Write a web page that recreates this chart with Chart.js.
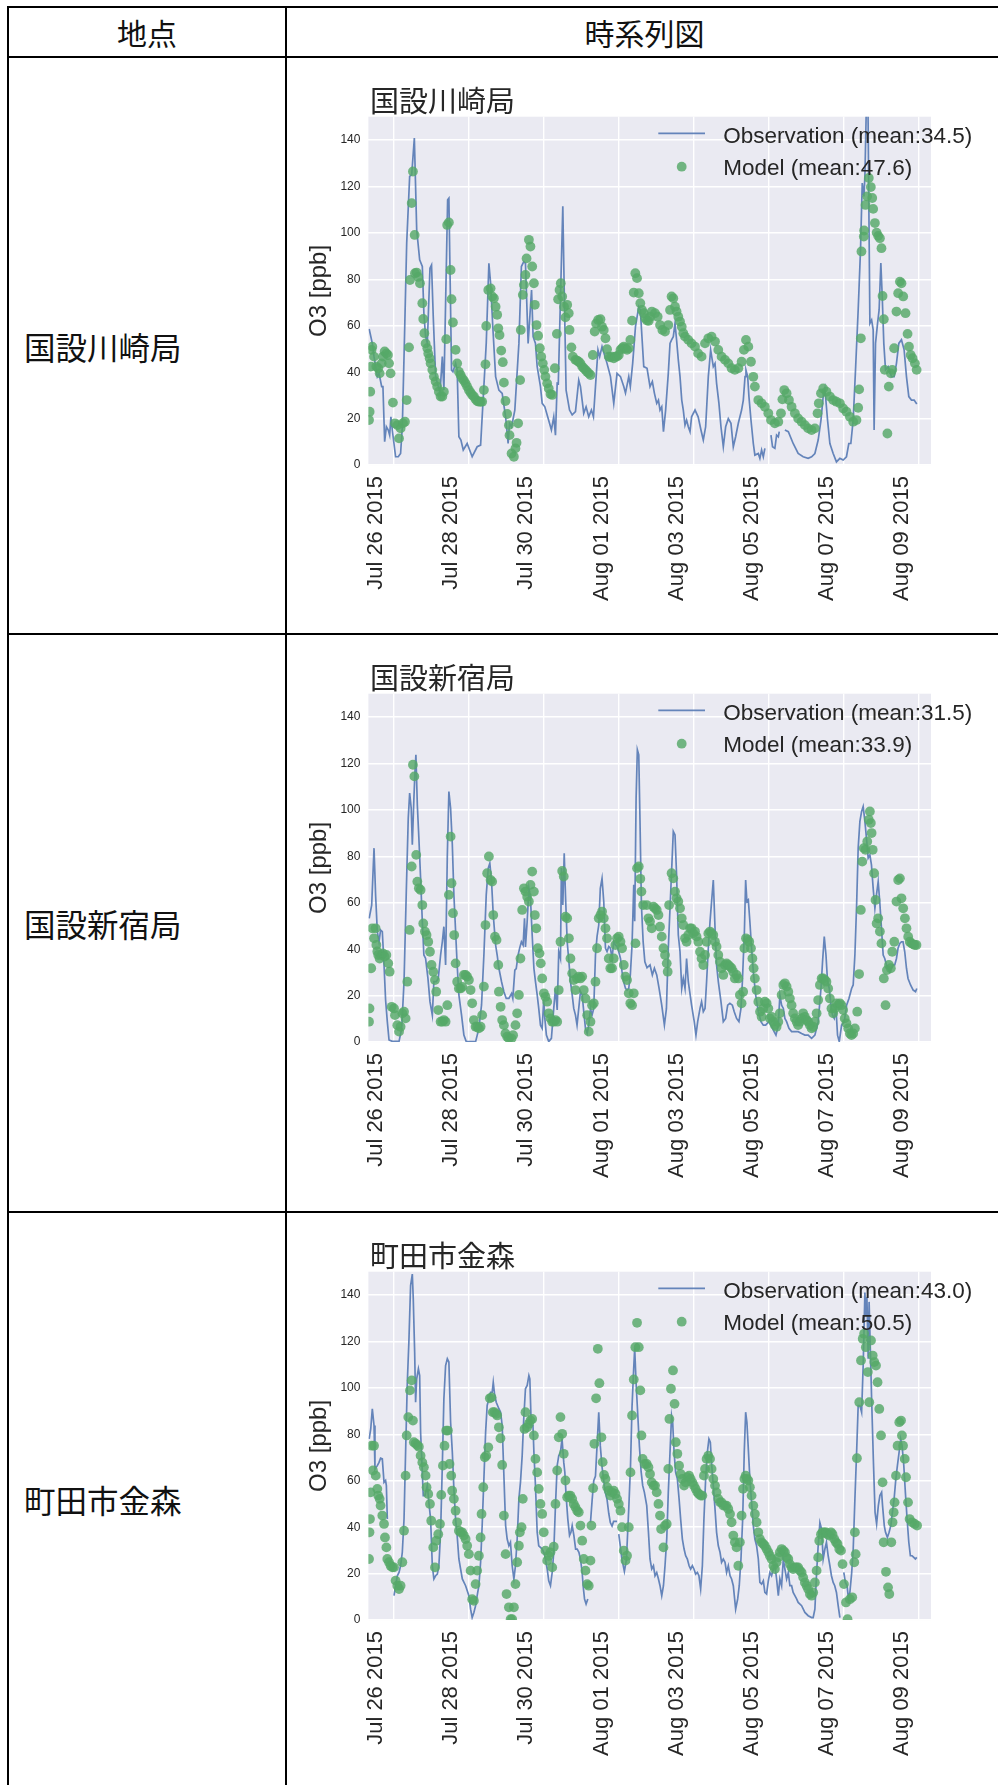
<!DOCTYPE html>
<html>
<head>
<meta charset="utf-8">
<script src="https://cdn.jsdelivr.net/npm/chart.js@4.4.1/dist/chart.umd.min.js"></script>
<style>
  html, body { margin: 0; padding: 0; background: #ffffff; }
  #page { position: relative; width: 998px; height: 1785px; overflow: hidden; background: #fff; }
  .ln { position: absolute; background: #000; }
  .cell { position: absolute; font-family: "Noto Sans CJK JP", "Noto Sans CJK SC", sans-serif; color: #111; white-space: nowrap; }
  canvas { position: absolute; }
</style>
</head>
<body>
<div id="page">
  <!-- table borders -->
  <div class="ln" style="left:7px;top:6px;width:1010px;height:2px"></div>
  <div class="ln" style="left:7px;top:6px;width:2px;height:1800px"></div>
  <div class="ln" style="left:285px;top:6px;width:2px;height:1800px"></div>
  <div class="ln" style="left:7px;top:56px;width:1010px;height:2px"></div>
  <div class="ln" style="left:7px;top:633px;width:1010px;height:2px"></div>
  <div class="ln" style="left:7px;top:1211px;width:1010px;height:2px"></div>

  <div class="cell" id="h0" style="left:9px;width:276px;top:12px;height:40px;line-height:40px;text-align:center;font-size:30px;"></div>
  <div class="cell" id="h1" style="left:287px;width:715px;top:12px;height:40px;line-height:40px;text-align:center;font-size:30px;"></div>

  <div class="cell" id="r0" style="left:24px;top:326px;height:40px;line-height:40px;font-size:31.5px;"></div>
  <div class="cell" id="r1" style="left:24px;top:903px;height:40px;line-height:40px;font-size:31.5px;"></div>
  <div class="cell" id="r2" style="left:24px;top:1479px;height:40px;line-height:40px;font-size:31.5px;"></div>

  <canvas id="c0" width="708" height="577" style="left:290px;top:57px"></canvas>
  <canvas id="c1" width="708" height="577" style="left:290px;top:634px"></canvas>
  <canvas id="c2" width="708" height="577" style="left:290px;top:1212px"></canvas>
</div>
<script>
// ---------------- DATA ----------------
const stationNames = ['国設川崎局', '国設新宿局', '町田市金森'];
const obsMeans = ['34.5', '31.5', '43.0'];
const modelMeans = ['47.6', '33.9', '50.5'];
const headerLabels = ['地点', '時系列図'];
// x tick positions: hours since Jul 26 2015 00:00
const xTickHours = [0, 48, 96, 144, 192, 240, 288, 336];
const xTickLabels = ['Jul 26 2015', 'Jul 28 2015', 'Jul 30 2015', 'Aug 01 2015', 'Aug 03 2015', 'Aug 05 2015', 'Aug 07 2015', 'Aug 09 2015'];
const yTickValues = [0, 20, 40, 60, 80, 100, 120, 140];
const xRange = [-16, 344];
const yRange = [0, 150];

// [hour since Jul 26 00:00, O3 ppb]; null = missing
const kawasakiObs = [[-15.5,58.6],[-13.5,52.4],[-12.4,46.7],[-10.3,38.1],[-9.2,39.5],[-7.5,33.8],[-6.7,33.8],[-5.6,10.1],[-4.5,16.5],[-3.3,15.1],[-2.4,12.9],[-1.6,20.8],[-0.7,15.1],[1.4,3.6],[3.1,3.6],[4.6,5.0],[5.7,16.5],[7.0,52.4],[8.5,95.5],[10.4,124.3],[11.7,125.0],[13.4,140.8],[14.9,101.3],[16.8,88.4],[18.5,85.5],[19.5,65.4],[20.6,55.3],[21.7,52.4],[23.4,84.8],[24.4,86.2],[25.5,63.9],[27.0,38.1],[28.7,33.8],[29.8,30.9],[31.3,46.7],[32.3,32.3],[34.7,114.2],[35.5,114.9],[37.2,40.9],[38.1,40.2],[39.8,43.8],[40.8,40.9],[41.9,12.2],[43.2,10.8],[44.7,6.5],[47.2,9.3],[50.4,3.6],[53.6,7.9],[55.8,8.6],[59.4,52.4],[61.1,86.9],[62.2,78.3],[63.6,59.6],[65.4,38.1],[67.5,32.3],[69.6,30.9],[71.8,20.8],[73.4,9.3],[74.3,18.0],[75.6,16.5],[77.7,23.7],[80.3,52.4],[81.9,85.5],[83.4,87.6],[84.5,86.9],[86.2,52.4],[88.4,75.4],[89.4,55.3],[90.9,52.4],[92.0,42.4],[94.1,33.8],[95.2,26.6],[96.9,25.1],[99.9,18.0],[101.1,15.1],[102.6,20.8],[103.7,12.9],[104.8,35.2],[105.5,35.0],[108.4,111.4],[109.3,75.4],[110.5,32.3],[112.7,23.7],[114.4,21.6],[116.5,23.0],[118.6,36.6],[119.7,33.8],[121.8,22.3],[123.3,25.1],[125.0,20.8],[126.7,23.7],[128.0,20.8],[129.3,33.8],[130.9,49.6],[132.0,46.7],[133.5,51.0],[136.7,43.8],[138.9,38.1],[141.0,26.6],[143.1,39.5],[145.3,38.1],[147.4,33.8],[148.5,31.0],[150.6,38.1],[151.6,33.8],[153.1,43.8],[154.9,59.6],[157.0,68.2],[158.0,66.8],[160.2,42.4],[162.3,41.7],[164.2,33.8],[165.7,36.0],[167.0,31.0],[168.5,26.6],[169.6,28.0],[170.6,23.7],[171.7,25.1],[172.8,14.4],[174.2,23.7],[175.9,39.5],[177.0,52.4],[178.0,53.9],[179.1,55.3],[180.2,61.0],[181.2,53.9],[182.3,45.3],[183.4,38.1],[184.5,28.0],[185.5,23.7],[186.6,17.2],[187.6,19.4],[188.7,16.5],[189.8,14.4],[190.8,20.8],[193.0,23.7],[195.0,20.8],[196.8,15.1],[198.3,10.8],[199.8,16.5],[201.5,38.1],[203.0,49.6],[204.7,42.4],[205.8,43.8],[206.8,35.2],[208.3,26.6],[209.6,16.5],[211.1,7.9],[212.6,16.5],[214.3,20.0],[216.0,18.0],[217.5,7.9],[219.0,12.2],[220.7,18.0],[222.8,23.7],[223.9,28.0],[225.0,38.1],[225.6,40.9],[226.7,38.1],[227.5,29.5],[228.8,19.4],[230.3,9.3],[231.3,4.3],[233.5,5.0],[234.5,2.9],[235.6,6.5],[236.7,3.6],[237.7,7.2],[239.5,null],[241.6,12.9],[242.6,7.9],[244.1,7.2],[245.2,12.9],[246.3,12.2],[246.9,14.4],[248.5,null],[250.5,15.1],[252.7,14.4],[255.8,9.3],[259.0,5.0],[262.2,3.6],[265.4,2.9],[267.6,3.6],[269.7,5.0],[271.8,10.8],[273.6,19.4],[275.0,29.5],[276.1,33.0],[277.8,19.4],[279.3,9.3],[281.4,5.0],[283.5,1.4],[285.7,2.9],[287.8,2.2],[289.9,3.6],[291.4,9.3],[292.7,9.3],[294.2,19.4],[295.7,41.0],[297.4,66.8],[298.9,92.7],[300.0,121.4],[301.1,115.7],[301.7,124.3],[302.8,160],[303.6,160],[304.9,61.0],[306.0,62.5],[307.0,58.2],[307.6,15.1],[308.5,52.4],[309.8,61.0],[310.8,66.8],[311.9,87.0],[312.8,72.5],[313.8,52.4],[314.9,41.0],[316.6,42.4],[318.7,38.1],[320.4,38.1],[321.9,43.8],[323.4,52.4],[325.1,54.0],[326.8,49.6],[328.3,38.1],[329.8,29.5],[331.5,28.0],[333.2,28.0],[334.9,26.3]];

const kawasakiModel = [[-15.6,19.4],[-15.2,23.0],[-14.8,31.6],[-14.4,42.4],[-14.0,49.6],[-13.5,51.0],[-12.4,46.7],[-10.9,42.4],[-9.7,41.7],[-8.8,39.5],[-7.5,43.8],[-6.7,46.7],[-5.6,48.9],[-4.5,48.1],[-3.5,47.4],[-2.8,43.8],[-1.8,39.5],[-0.3,26.9],[1.0,18.0],[2.5,17.2],[3.6,11.5],[4.6,15.8],[6.1,18.0],[7.4,18.7],[8.5,28.0],[10.0,50.7],[10.6,79.7],[11.7,112.8],[12.5,126.4],[13.6,99.1],[13.8,82.6],[14.9,82.9],[15.9,81.0],[17.0,78.3],[18.5,69.7],[19.1,62.9],[19.8,56.8],[20.6,52.4],[21.7,50.3],[22.3,48.0],[23.2,46.0],[23.8,43.8],[24.9,41.0],[25.9,38.1],[27.0,36.0],[28.0,33.8],[29.1,31.6],[30.2,29.5],[31.3,29.5],[32.3,31.6],[33.8,54.2],[34.4,103.4],[35.5,104.5],[36.6,84.0],[37.2,71.4],[38.1,61.4],[39.8,49.6],[40.8,43.8],[41.9,40.2],[43.0,38.8],[44.0,37.4],[45.1,36.4],[46.2,35.2],[47.2,33.8],[48.3,32.3],[49.4,31.2],[50.4,30.2],[51.5,29.5],[52.6,28.3],[53.6,27.6],[54.7,27.3],[55.8,27.3],[56.8,27.3],[57.9,32.3],[58.9,43.4],[59.4,59.9],[60.7,75.4],[62.2,76.1],[63.2,72.6],[64.3,71.8],[65.4,68.2],[66.4,64.7],[67.1,58.9],[67.9,56.0],[69.0,49.3],[70.0,44.3],[70.7,35.5],[71.7,27.6],[72.8,22.0],[73.9,17.2],[74.3,12.9],[75.6,5.0],[77.1,3.6],[78.1,7.2],[78.8,9.6],[79.8,18.0],[81.1,36.6],[81.5,58.2],[82.8,73.3],[83.5,77.6],[84.5,81.9],[85.2,89.0],[86.7,97.0],[87.7,94.1],[88.8,85.5],[89.9,78.3],[90.5,69.0],[91.6,60.3],[92.6,55.7],[93.7,50.3],[94.6,46.7],[95.6,43.8],[96.5,41.0],[97.3,38.1],[98.4,35.2],[99.4,33.0],[100.5,30.6],[101.6,30.2],[103.3,41.7],[104.6,56.5],[105.4,71.4],[106.3,75.4],[107.1,78.3],[108.0,72.6],[109.2,68.2],[110.1,63.6],[111.2,69.0],[112.2,65.4],[112.7,58.2],[113.9,50.7],[114.8,46.7],[116.5,45.3],[117.5,45.0],[118.6,44.5],[119.7,43.8],[120.8,42.4],[121.8,41.7],[122.9,41.0],[123.9,40.2],[125.0,39.5],[126.1,38.8],[127.6,47.4],[128.8,57.5],[129.7,61.0],[131.0,62.5],[132.5,62.8],[133.5,59.6],[134.6,58.2],[135.7,54.6],[136.7,49.9],[137.8,46.7],[138.9,46.4],[139.9,46.7],[141.0,46.0],[142.1,46.7],[143.1,46.7],[144.2,47.4],[145.3,49.6],[146.3,50.3],[147.4,51.0],[148.5,50.3],[149.5,49.6],[150.6,50.3],[151.6,53.9],[152.7,62.2],[153.8,74.3],[154.8,82.6],[155.9,80.5],[157.0,74.0],[158.0,69.7],[159.1,66.8],[160.2,65.4],[161.2,63.2],[162.3,62.2],[163.4,62.1],[164.4,63.9],[165.4,66.1],[167.4,65.4],[169.1,63.9],[170.6,60.3],[172.1,58.2],[173.8,57.5],[175.9,60.3],[177.0,66.8],[178.0,72.6],[179.1,71.8],[180.2,68.2],[181.2,66.1],[182.3,63.9],[183.4,61.8],[184.5,59.6],[185.5,56.8],[186.6,55.3],[188.7,53.9],[190.8,52.4],[193.0,51.0],[195.0,48.1],[197.2,46.7],[199.4,52.4],[201.5,54.6],[203.6,55.3],[205.8,53.2],[207.9,49.6],[210.0,46.7],[212.2,45.3],[214.3,43.8],[216.4,41.7],[218.5,41.0],[220.7,41.7],[222.8,44.5],[224.3,49.6],[225.6,53.9],[227.1,51.0],[228.8,44.5],[230.3,38.0],[231.3,33.8],[233.5,28.0],[235.6,26.6],[237.7,25.1],[239.9,22.3],[241.6,19.4],[244.1,18.0],[246.3,18.7],[248.0,22.3],[248.9,28.3],[250.1,32.3],[251.6,30.9],[253.1,28.0],[254.8,25.1],[256.9,22.3],[259.0,20.1],[261.2,18.7],[263.3,17.2],[265.4,15.8],[267.6,15.1],[269.7,15.8],[271.4,22.3],[272.2,26.6],[273.6,30.9],[275.0,33.0],[277.1,31.6],[279.3,29.5],[281.4,28.0],[283.5,27.3],[285.7,26.6],[287.8,24.4],[289.9,23.0],[292.1,20.8],[294.2,18.7],[296.3,19.4],[297.4,24.7],[298.0,32.6],[299.1,54.6],[299.5,92.0],[301.0,98.4],[301.2,101.0],[302.1,112.0],[303.1,115.7],[304.2,123.6],[305.5,119.7],[306.4,115.0],[307.0,110.3],[308.1,104.2],[309.2,100.1],[310.2,98.7],[311.3,97.7],[312.3,93.4],[313.0,72.8],[313.8,62.8],[314.4,41.0],[316.1,13.6],[317.0,33.8],[318.3,39.5],[319.2,41.0],[320.4,50.3],[321.9,66.1],[323.0,74.0],[324.1,79.0],[325.1,78.3],[326.2,72.6],[327.7,65.4],[329.0,56.5],[329.9,51.0],[331.0,47.4],[332.2,46.0],[333.7,43.8],[334.8,41.0]];

const shinjukuObs = [[-15.5,53.3],[-13.9,59],[-12.4,83.5],[-11.4,63.4],[-10.3,47.6],[-9.2,43.2],[-8.2,48.3],[-7.1,47.6],[-6.0,33.2],[-5.0,18.1],[-3.9,8.8],[-2.8,0.9],[-0.7,0.3],[3.6,0.3],[5.3,5.9],[6.8,26],[8.3,66.2],[9.5,96.4],[10.4,107.2],[11.4,100.7],[12.1,85],[13.1,104.7],[13.8,116.5],[14.4,123.7],[15.3,102.2],[16.3,87.8],[17.4,70.5],[18.5,51.9],[19.5,37.5],[20.6,36],[22.1,27.4],[23.4,17.4],[24.9,11.6],[25.9,26],[27.4,26],[28.7,27.4],[30.2,37.5],[31.3,43.2],[32.3,49.7],[33.4,33.2],[34.5,80.6],[35.5,107.9],[36.6,100.7],[37.7,85],[38.7,63.4],[39.8,47.6],[40.8,33.2],[41.9,20.3],[43.6,11.6],[45.1,3],[46.6,0.2],[52.6,0.2],[54.7,5.9],[56.4,16],[57.9,37.5],[59.4,63.4],[60.7,74.9],[61.7,77],[62.8,69.1],[63.9,54.7],[65.4,41.8],[66.4,37.5],[67.5,31.8],[69.2,26],[70.7,21.7],[72.2,18.8],[73.9,18.8],[75.6,20.9],[76.4,18.8],[77.7,31],[78.6,31.6],[79.8,37.5],[80.9,40.8],[81.9,43.2],[83.0,41.8],[83.9,53.3],[84.5,41],[85.6,52],[86.7,66.2],[87.7,61.9],[88.8,46.1],[89.9,31.8],[90.9,26],[92.0,20.3],[93.0,14.5],[94.1,7.3],[95.2,5.9],[96.2,18.1],[96.9,10.1],[97.9,3],[99.4,0.2],[101.1,1.6],[102.6,14.5],[103.7,23.1],[104.8,13.8],[105.8,38.9],[106.9,36],[107.5,74.9],[108.4,59],[109.3,81.3],[110.1,63.4],[111.2,43.2],[112.3,34.6],[113.3,26],[114.4,20.3],[115.4,14.5],[116.5,11.6],[117.5,7.3],[118.6,14.5],[119.7,21.7],[120.8,20.3],[121.8,13.1],[122.9,5.9],[124.0,3.7],[125.0,7.3],[126.1,14.5],[127.1,11.6],[128.2,14.5],[129.3,37.5],[130.3,45.4],[131.4,50.4],[132.4,66.2],[133.5,70.5],[134.6,60.5],[135.7,40.4],[136.7,39],[137.8,41.1],[138.9,40.4],[139.9,36],[141.0,43.2],[142.1,41.8],[143.1,41.1],[144.2,38.9],[145.3,36],[146.3,30.3],[147.4,26],[148.5,23.1],[149.5,22.4],[150.6,23.1],[151.6,28.9],[152.7,41.8],[153.8,67.7],[154.4,52],[155.3,105],[156.1,125.9],[157.0,123.7],[157.8,95],[158.7,59],[159.8,43.2],[160.9,34.6],[162.3,32],[164.2,33.2],[165.7,28.9],[167.0,31.8],[168.5,28.9],[170.0,23.1],[171.7,15.9],[173.4,7.3],[174.7,14.4],[175.9,40.4],[177.0,57.6],[178.0,73.4],[179.1,90.7],[180.2,89.2],[181.2,72],[182.3,46.1],[183.4,38.9],[184.5,23.1],[185.5,27.4],[186.6,23.1],[187.6,36],[188.7,26],[190.8,15.9],[192.5,8.8],[193.6,3],[194.7,8.8],[196.2,14.5],[197.2,17.4],[198.3,13.1],[199.4,14.5],[200.4,26],[201.5,40.4],[202.6,51.9],[203.6,60.5],[204.7,69.8],[205.8,49],[206.8,33.2],[207.9,26],[209.6,17.4],[211.1,8.8],[212.6,10.2],[213.9,15.9],[215.3,16.7],[216.9,15.9],[218.1,13.1],[219.6,10.2],[221.1,8.8],[222.4,14.5],[223.3,26],[224.6,47.6],[225.4,69.8],[226.2,60.5],[227.1,61.2],[228.1,51.9],[229.2,40.4],[230.3,30.3],[231.8,20.3],[233.5,13.1],[235.2,8.8],[236.7,7.3],[238.2,7.3],[240.2,8.8],[241.6,7.3],[243.1,5.2],[244.8,3],[246.3,7.3],[247.3,20.3],[248.4,15.9],[249.5,14.5],[250.5,10.2],[251.6,8.8],[253.1,5.9],[254.8,4.5],[256.9,4.5],[259.0,4.5],[261.2,3.7],[263.3,3],[265.4,3],[267.6,1.6],[269.7,3],[271.8,8.8],[273.6,23.1],[274.6,34.6],[275.7,45.4],[276.8,37.5],[277.8,26],[278.9,23.1],[280.0,15.9],[281.0,11.6],[282.1,10.2],[283.2,14.5],[284.2,3],[285.3,0.2],[286.8,7.3],[288.5,8.8],[290.0,15.9],[291.5,18.8],[293.2,23.1],[294.2,24.6],[295.3,37.5],[296.4,59],[297.4,83.5],[298.5,95],[299.6,99.3],[300.6,101.4],[301.7,95],[302.7,87.8],[303.8,79.2],[304.9,80.6],[305.9,76.3],[307.0,66.2],[308.1,57.6],[309.1,63.4],[310.2,69.1],[311.2,60.5],[312.3,49],[313.4,37.5],[314.4,36],[315.5,33.2],[316.6,31.8],[317.6,30.3],[318.7,31.8],[319.7,33.2],[320.8,33.2],[321.9,36],[322.9,40.4],[324.0,42.5],[325.1,43.2],[326.1,43.2],[327.2,38.9],[328.3,31.8],[329.3,27.4],[330.9,24.6],[332.6,22.4],[334.1,21.7],[334.9,23.1]];

const shinjukuModel = [[-15.6,8.8],[-15.3,14.5],[-14.2,31.8],[-13.5,49],[-12.4,44.7],[-11.4,49],[-10.9,41.8],[-10.3,39],[-9.7,37.5],[-8.8,36],[-7.5,37.5],[-6.7,38.2],[-5.6,36.8],[-4.5,37.5],[-3.3,33.9],[-2.4,30.3],[-1.1,15.2],[0.4,14.5],[1.0,11.6],[2.5,7.3],[3.6,4.5],[4.6,6.6],[5.7,12.4],[6.8,13.1],[7.8,10.2],[8.9,26],[10.4,48.3],[11.7,75.6],[12.5,119.4],[13.4,114.4],[14.6,80.6],[15.3,69.1],[16.3,66.2],[17.4,65.5],[18.5,59],[19.1,51.1],[20.2,47.6],[21.2,46.1],[22.3,43.2],[23.4,38.9],[24.4,33.2],[25.5,30.3],[26.6,26.7],[27.4,21.7],[28.7,13.8],[30.2,8.8],[31.3,8.8],[32.3,9.5],[33.4,8.8],[34.5,15.9],[35.5,63.4],[36.6,88.5],[37.2,68.4],[38.1,55.5],[38.9,46.1],[39.8,33.9],[40.8,26],[41.9,23.1],[43.0,23.1],[44.0,23.8],[45.1,28.9],[46.2,28.9],[47.2,28.2],[48.3,26.7],[49.4,22.4],[50.4,16.7],[51.5,9.5],[52.6,6.6],[53.6,6.6],[54.7,5.9],[55.8,6.6],[56.8,11.6],[57.9,23.9],[58.9,50.4],[60.0,72.7],[61.1,79.9],[62.2,69.8],[63.2,69.1],[63.9,54.7],[65.0,45.4],[66.0,44],[67.1,33.2],[67.5,21.7],[68.6,15.2],[69.6,9.5],[70.7,7.3],[71.7,3.7],[72.8,2.3],[73.9,1.6],[75.6,1.6],[76.6,3],[78.1,7.3],[79.2,12.4],[80.3,20.3],[81.3,36],[82.4,56.9],[83.5,66.2],[84.5,64.8],[85.6,62.6],[86.7,60.5],[87.7,67.7],[88.8,73.4],[89.9,64.8],[90.5,54.7],[91.4,49],[92.4,40.4],[93.5,38.2],[94.3,33.9],[95.2,27.4],[96.3,21],[97.3,19.5],[98.4,17.4],[99.4,12.4],[100.5,10.2],[101.6,8.8],[102.6,8.8],[103.7,9.5],[104.8,8.8],[105.8,22.4],[106.9,43.2],[108.0,73.7],[109.0,71.3],[110.1,54],[111.2,53.3],[112.3,44.7],[113.3,36],[114.4,29.6],[115.4,26.7],[116.5,22.4],[117.5,27.4],[118.6,28.2],[119.7,27.4],[120.8,28.2],[121.8,22.4],[122.9,18.8],[124.0,11.6],[125.0,4.5],[126.1,8.8],[127.1,15.9],[128.2,16.7],[129.3,26],[130.3,40.4],[131.4,53.3],[132.5,54.7],[133.5,56.2],[134.6,53.3],[135.7,49],[136.7,44.7],[137.8,36],[138.8,31.8],[139.9,31.8],[141.0,36],[142.0,41.8],[143.1,44.7],[144.2,45.4],[145.3,43.2],[146.3,40.4],[147.4,33.2],[148.5,28.2],[149.5,26.7],[150.6,21],[151.6,16.7],[152.7,15.9],[153.8,21],[154.9,42.5],[155.9,74.9],[157.0,75.6],[158.0,70.3],[158.7,64.8],[159.8,59],[162.1,59],[163.2,53.3],[164.2,51.9],[165.3,49],[166.4,58.3],[167.4,57.6],[168.5,56.9],[169.6,54.7],[170.6,49.7],[171.7,45.4],[172.8,40.4],[173.8,37.5],[174.9,33.9],[175.5,30.3],[176.4,59],[178.0,72.7],[179.1,70.5],[180.2,64.8],[181.2,61.9],[182.3,60.5],[183.4,57.6],[184.5,53.3],[185.5,50.4],[186.6,44.7],[187.6,43.2],[188.7,46.1],[189.8,49],[190.8,49],[191.9,46.8],[193.0,47.6],[194.0,45.4],[195.1,43.2],[196.2,38.9],[197.2,36],[198.3,33.2],[199.4,37.5],[200.4,43.2],[201.5,46.8],[202.6,47.6],[203.6,46.8],[204.7,46.1],[205.8,43.2],[206.8,41.1],[207.9,37.5],[208.9,34.6],[210.0,31.8],[211.1,28.9],[212.2,33.2],[213.2,33.9],[214.3,33.2],[215.3,32.5],[216.4,31.8],[217.4,30.3],[218.5,27.4],[219.6,28.9],[220.7,27.4],[221.7,20.3],[222.8,16.7],[223.8,21.7],[224.6,40.4],[225.6,44.7],[226.7,44],[227.7,43.2],[228.8,40.4],[229.7,36],[230.5,31.8],[231.3,27.4],[232.4,22.4],[233.5,17.4],[234.6,13.1],[235.6,10.9],[236.7,14.5],[237.7,17.4],[238.8,16.7],[239.9,14.5],[240.9,10.2],[242.0,10.9],[243.1,8.8],[244.1,7.3],[245.2,6.6],[246.3,8.8],[247.3,12.4],[248.4,20.3],[249.5,24.6],[250.5,25.3],[251.6,23.9],[252.7,21.7],[253.7,18.8],[254.8,15.9],[255.8,12.4],[256.9,10.2],[258.0,8.8],[259.0,7.3],[260.1,8.8],[261.2,10.2],[262.2,12.4],[263.3,10.9],[264.4,9.5],[265.4,8.8],[266.5,7.3],[267.6,5.9],[268.6,6.6],[269.7,8.8],[270.8,12.4],[271.8,18.1],[272.9,24.6],[274.0,27.4],[275.0,27.4],[276.1,26.7],[277.1,26],[278.2,23.1],[279.3,18.8],[280.3,14.5],[281.4,12.4],[282.4,14.5],[283.5,16.7],[284.6,15.9],[285.7,16.7],[286.7,15.9],[287.8,13.8],[288.8,10.2],[289.9,8.1],[291.0,5.9],[292.1,3.7],[293.1,3],[294.2,3.7],[295.3,5.9],[296.8,13.1],[298.0,29.3],[299.1,56.9],[300.0,77.7],[301.0,83.5],[302.1,82.8],[303.2,86.4],[304.2,95.7],[304.9,99.3],[305.5,94.3],[306.0,90],[306.7,82.8],[307.6,72.7],[308.5,61.2],[309.2,51.1],[310.2,53.3],[311.3,47.6],[312.3,42.5],[313.8,27.4],[314.9,15.9],[315.8,31],[317.1,33.2],[318.3,31.8],[319.2,38.9],[320.5,43.2],[321.9,60.5],[323.0,69.8],[324.1,70.5],[325.1,61.9],[326.2,57.6],[327.3,53.3],[328.3,49],[329.4,45.4],[330.4,43.2],[331.5,42.5],[332.6,42.1],[333.6,41.8],[334.7,41.8]];

const machidaObs = [[-15.5,78],[-14.5,82.3],[-13.5,91],[-12.4,83.8],[-11.8,65],[-10.3,66.5],[-9.2,67.9],[-8.2,69.7],[-7.1,69.4],[-6.0,59.3],[-5.0,60.1],[-4.5,57.9],[-3.9,43.5],[-2.0,null],[0.4,10.5],[1.4,14.8],[2.5,19.1],[3.6,20.5],[4.6,23.4],[5.7,29.2],[6.8,43.5],[7.8,72.3],[8.9,102.4],[9.9,119.7],[11.0,144],[12.1,149],[12.7,138.4],[13.6,115.4],[14.2,93.8],[14.9,103.9],[16.0,108.2],[16.8,105.3],[17.4,80.9],[18.5,63.6],[19.1,53.6],[20.2,53.6],[21.7,57.9],[22.7,50.7],[23.8,43.5],[24.9,23.4],[25.9,17.7],[27.0,19.1],[28.1,19.8],[29.1,23.4],[30.2,37.8],[31.3,66.5],[32.3,95.3],[33.4,109.6],[34.5,112.5],[35.5,111.1],[36.6,85.2],[37.7,72.3],[38.7,56.5],[39.8,43.5],[40.8,36.4],[41.9,26.3],[43.0,22],[44.1,17.7],[46.2,14.8],[48.3,10.5],[49.4,4.7],[50.4,1.1],[51.5,3.3],[52.6,6.2],[53.6,10.5],[54.7,14.8],[55.8,24.9],[56.8,40.7],[57.9,60.8],[59.0,80.9],[60.0,92.4],[61.1,95.3],[62.2,98.1],[63.2,98.1],[63.9,102.4],[64.7,97.4],[65.8,93.8],[67.5,91],[68.6,89.5],[69.6,83.8],[70.7,62.2],[71.8,40.7],[72.8,34.9],[73.9,32],[74.9,33.5],[76.0,23.4],[77.1,17.7],[78.1,23.4],[79.2,34.9],[80.3,52.2],[81.3,59.3],[82.4,70.8],[83.4,86.6],[84.5,99.6],[85.6,101],[86.7,105.3],[87.3,103.9],[88.2,83.8],[89.3,83.8],[89.9,72.3],[90.9,57.9],[92.0,37.8],[93.0,32],[94.1,31.3],[95.2,30.6],[96.2,29.2],[97.3,26.3],[98.4,22],[99.4,16.9],[100.5,14.8],[101.6,20.5],[102.6,29.2],[103.7,49.3],[104.8,66.5],[105.8,70.8],[106.9,72.3],[107.9,78],[109.0,68],[109.7,63.6],[110.5,53.6],[111.6,43.5],[112.7,36.4],[113.6,37.8],[114.4,40.7],[115.5,36.4],[116.6,30.6],[117.6,30.6],[118.7,29.2],[119.7,26.3],[120.8,20.5],[121.4,14.8],[122.3,9.1],[123.3,6.9],[124.4,9.1],[125.2,null],[126.1,42],[127.2,52],[128.2,60],[129.3,62],[130.3,75],[131.4,89.5],[132.4,75],[133.5,66],[134.6,60],[135.6,55],[136.7,52],[137.8,46],[138.8,42],[139.9,40.5],[140.9,42.5],[143.1,42.5],[143.6,null],[144.2,37],[146.3,26],[147.8,21],[149.1,26],[150.6,48],[151.7,66],[152.7,92],[153.8,109],[154.4,117],[155.3,102],[156.4,88],[157.4,75],[158.5,64],[159.5,58],[160.6,55],[162.1,49.3],[163.2,37.8],[164.2,26.3],[165.3,22],[166.4,23.4],[167.4,19.1],[168.5,20.5],[169.6,17.7],[170.6,14.8],[171.7,10.5],[172.8,14.8],[173.8,23.4],[174.9,34.9],[175.9,55],[177.0,72.3],[178.0,88],[178.7,85.2],[179.6,72.3],[180.6,63.6],[181.7,60.8],[182.8,52.2],[183.8,43.5],[184.9,34.9],[186.0,30.6],[187.0,27.7],[188.1,26.3],[189.2,23.4],[190.2,22],[191.3,23.4],[192.3,22],[193.4,19.8],[194.5,20.5],[195.5,19.1],[196.6,13.4],[197.7,23.4],[198.7,43.5],[199.8,60.8],[200.9,72.3],[201.9,78],[202.8,76.6],[203.7,66.5],[204.7,57.9],[205.8,47.8],[206.8,37.8],[207.9,32],[209.0,29.2],[210.0,24.9],[211.1,26.3],[212.2,24.9],[213.2,20.5],[214.3,23.4],[215.4,19.1],[216.4,17.7],[217.5,14.8],[219.0,4.7],[220.3,9.1],[221.3,14.8],[222.4,26.3],[223.5,43.5],[224.5,72.3],[225.4,89.5],[226.2,85.2],[227.1,73.7],[228.1,60.8],[229.2,50.7],[230.3,40.7],[231.3,34.9],[232.4,32],[233.5,26.3],[234.5,16.2],[235.6,15.5],[236.7,16.9],[237.7,11.9],[238.8,11.2],[239.9,16.9],[240.9,20.5],[242.0,19.1],[243.1,22],[244.1,23.4],[245.2,17.7],[246.3,10.5],[247.3,17.7],[248.4,14.8],[249.5,26.3],[250.5,22],[251.6,17.7],[252.7,20.5],[253.7,14.8],[254.8,14.8],[255.8,11.9],[256.9,10.5],[258.0,9.1],[259.0,7.6],[261.2,6.2],[263.3,3.3],[265.4,1.9],[267.6,1.1],[268.6,1.1],[269.7,4.7],[270.8,20.5],[271.8,32],[272.9,42],[274.0,39.2],[275.0,26.3],[276.1,30.6],[277.1,33.5],[278.2,27.7],[279.3,23.4],[280.3,19.1],[281.4,16.2],[282.4,14.8],[283.5,11.9],[284.6,6.2],[285.7,1.1],[287.0,null],[288.2,20.5],[289.2,16.2],[290.3,14.8],[291.2,9.1],[292.1,12],[293.2,20],[294.2,30],[295.3,52],[296.4,72.3],[297.4,92.4],[298.5,92.4],[299.6,89.5],[300.6,109.6],[301.7,141],[302.3,131],[303.0,139],[303.8,112.5],[304.4,137],[306.0,95.3],[307.1,69.4],[308.2,46.4],[309.2,41.4],[310.3,49.3],[311.3,53.6],[312.4,55],[313.0,49.3],[314.1,40.7],[314.9,37.8],[316.1,35.6],[317.2,37.8],[318.3,40.7],[319.3,46.4],[320.4,52.2],[321.5,60.8],[322.5,66.5],[323.6,72.3],[324.6,78],[325.5,75.1],[326.6,66.5],[327.6,55],[328.7,43.5],[329.8,33.5],[330.8,27.7],[331.9,27.7],[333.0,27],[334.0,26.3],[334.9,27]];

const machidaModel = [[-15.6,26.3],[-15.3,37.8],[-15.0,43.5],[-14.6,55],[-13.9,75.1],[-13.1,64.4],[-12.4,75.1],[-11.3,62.2],[-10.3,56.5],[-9.7,53.6],[-8.8,52.2],[-8.2,49.3],[-7.1,45],[-6.0,41.4],[-5.4,35.6],[-4.5,31.3],[-3.9,26.3],[-2.8,24.9],[-1.8,23.4],[-0.7,22.7],[0.4,22.7],[1.4,17],[2.5,14.8],[3.6,13.4],[4.6,14.8],[5.7,24.9],[6.8,38.5],[7.8,62.2],[8.5,79.5],[9.5,87.4],[10.6,98.9],[11.7,103.2],[12.5,85.9],[13.1,76.6],[14.2,76.0],[15.3,75.3],[16.3,74.6],[17.4,70.8],[18.5,67.9],[19.5,65.8],[20.6,62.2],[21.2,57.2],[22.3,54.3],[23.4,50],[24.2,42.8],[25.5,31.3],[26.6,22.7],[27.4,34.2],[28.7,37],[29.8,41.4],[30.6,53.9],[31.7,66.5],[32.7,75.1],[33.8,81.6],[34.9,81.6],[35.9,67.2],[37.0,62.2],[37.6,55.7],[38.7,52.2],[39.8,47.1],[40.8,42.1],[41.9,38.5],[43.0,37.8],[44.0,37.8],[45.1,36.4],[46.2,34.9],[47.2,32],[48.3,28.4],[49.4,21.3],[50.4,9],[51.5,8.3],[52.6,15.5],[53.6,21.3],[54.7,27.7],[55.8,35.6],[56.4,45.7],[57.5,57.2],[58.5,70.1],[59.4,70.8],[60.7,74.4],[61.7,95.5],[62.8,95.9],[63.6,89.5],[64.7,89.5],[65.8,88.8],[66.4,88.1],[67.5,83],[68.5,78.3],[69.6,66.8],[70.7,45],[71.8,28.4],[72.4,11.2],[73.9,5.5],[75.0,0.4],[76.0,0.4],[77.1,5.5],[78.1,15.5],[79.2,24.9],[80.3,32],[80.9,37.8],[82.0,40],[82.8,52.2],[83.9,82.3],[84.5,89.5],[85.6,83],[86.7,84.5],[87.7,86],[88.8,86.6],[89.9,79.5],[90.9,69.4],[92.0,63.6],[93.0,56.5],[94.1,50],[95.2,45.7],[96.2,37.8],[97.3,29.9],[98.4,25.6],[99.4,27.7],[100.5,29.2],[101.6,22.7],[102.6,31.6],[103.7,50],[104.8,64.4],[105.8,78.7],[106.9,87.4],[108.0,80.2],[109.0,71.6],[110.1,60.1],[111.2,52.9],[112.2,53.6],[113.3,53.6],[114.4,52.2],[115.4,50],[116.5,48.6],[117.6,47.1],[118.6,46.4],[119.7,40.7],[120.8,34.2],[121.8,26.3],[122.9,21.3],[124.0,15.5],[125.0,14.8],[126.1,25.6],[126.7,40.7],[127.8,56.8],[128.6,75.9],[129.7,95.5],[130.8,116.8],[131.8,102],[133.1,78.7],[133.9,68],[134.8,62.5],[135.7,60.8],[136.8,57.2],[137.8,55.7],[138.9,53.6],[139.9,55],[141.0,55.7],[142.1,54.3],[143.1,52.2],[144.2,50],[145.3,47.1],[146.3,40],[147.4,29.9],[148.5,25.6],[149.5,27.7],[150.6,40],[151.7,63.6],[152.7,88.1],[153.8,103.6],[154.8,117.5],[155.9,128],[157.0,117.5],[158.0,98.9],[158.7,79.5],[159.5,69.4],[160.8,67.2],[162.1,67.2],[163.2,65.8],[164.2,62.9],[165.3,59.3],[166.4,57.9],[167.4,57.9],[168.5,55],[169.6,50],[170.6,45],[171.3,39.2],[172.8,31.3],[173.8,40.7],[174.9,41.4],[175.9,65.1],[176.6,86.6],[177.6,99.6],[178.9,107.5],[179.9,93.1],[180.7,76.6],[181.7,71.6],[182.8,66.5],[183.8,62.9],[184.9,60.8],[186.0,57.9],[187.0,59.3],[188.1,61.5],[189.2,62.2],[190.2,60.8],[191.3,59.3],[192.3,57.9],[193.4,56.5],[194.5,55],[195.5,54.3],[196.6,53.6],[197.7,53.6],[198.7,62.2],[199.4,65.1],[200.4,69.4],[201.5,70.8],[202.6,69.4],[203.6,65.1],[204.7,60.8],[205.8,57.9],[206.8,55],[207.9,52.2],[209.0,50.7],[210.0,50.7],[211.1,49.3],[212.2,49.3],[213.2,49.3],[214.3,47.8],[215.4,45.7],[216.4,42.1],[217.5,36.4],[218.5,33.5],[219.6,31.3],[220.7,23.4],[221.7,33.5],[222.8,45],[223.7,56.5],[224.6,60.8],[225.4,62.2],[226.2,60.8],[227.1,60.1],[228.1,57.2],[229.2,53.6],[230.3,49.3],[231.3,45.7],[232.4,42.1],[233.5,37.8],[234.5,34.9],[235.6,33.5],[236.7,32.8],[237.7,32],[238.8,30.6],[239.9,29.2],[240.9,27.7],[242.0,26.3],[243.1,23.4],[244.1,22],[245.2,24.9],[246.3,27],[247.3,29.2],[248.4,30.6],[249.5,29.9],[250.5,29.2],[251.6,27],[252.7,26.3],[253.7,24.1],[254.8,22.7],[255.8,22],[256.9,22.7],[258.0,22.7],[259.0,22.7],[260.1,21.3],[261.2,20.5],[262.2,18.4],[263.3,16.2],[264.4,14.8],[265.4,13.4],[266.5,11.2],[267.6,10.5],[268.6,11.9],[269.7,16.2],[270.8,21.3],[271.8,27],[272.5,34.2],[273.6,37],[274.6,37.8],[275.7,37.8],[276.8,37.8],[277.8,37],[278.9,36.4],[280.0,37.8],[281.0,37],[282.1,34.9],[283.2,33.5],[284.2,32.8],[285.3,30.6],[286.4,29.9],[287.4,24.1],[288.3,15.5],[289.6,7.6],[290.6,0.4],[292.1,9],[293.6,9.8],[294.9,24.9],[295.3,37.8],[295.8,28.4],[296.6,69.7],[298.1,93.8],[299.2,111.8],[300.3,121.1],[301.2,123.3],[302.3,117.5],[303.6,106.8],[304.5,93.8],[305.6,120.4],[306.7,113.9],[307.7,111.1],[308.8,109.6],[309.8,102.4],[310.9,90.9],[312.0,79.5],[313.0,59.3],[313.7,33.5],[315.2,20.8],[316.5,14.1],[317.3,11.2],[318.6,33.5],[319.4,42.1],[320.1,46.4],[320.7,50.7],[321.6,62.2],[322.6,75.1],[323.7,85.2],[324.8,85.9],[325.4,79.5],[326.1,75.1],[327.2,69.4],[328.0,61.5],[329.3,50.7],[330.3,43.5],[331.9,42.1],[333.6,41.4],[335.1,40.7]];

const observationSeries = [kawasakiObs, shinjukuObs, machidaObs];
const modelSeries = [kawasakiModel, shinjukuModel, machidaModel];

// ---------------- STYLE ----------------
const OBS_COLOR = 'rgba(76,114,176,0.85)';
const MOD_COLOR = 'rgba(85,168,104,0.82)';
const BG_COLOR = '#EAEAF2';
const TEXT_COLOR = '#262626';
const LATIN = '"Liberation Sans", Arial, Helvetica, sans-serif';
const CJK = '"Noto Sans CJK JP", "Noto Sans CJK SC", sans-serif';
const DOT_R = 4.9;

Chart.defaults.font.family = LATIN;
Chart.defaults.color = TEXT_COLOR;

document.getElementById('h0').textContent = headerLabels[0];
document.getElementById('h1').textContent = headerLabels[1];
document.getElementById('r0').textContent = stationNames[0];
document.getElementById('r1').textContent = stationNames[1];
document.getElementById('r2').textContent = stationNames[2];

function toPoints(arr) { return arr.map(p => ({ x: p[0], y: p[1] })); }

function makeDecor(title, obsLabel, modLabel) {
  return {
    id: 'decor',
    beforeDraw(chart) {
      const { ctx, chartArea: a } = chart;
      ctx.save();
      ctx.fillStyle = BG_COLOR;
      ctx.fillRect(a.left, a.top, a.right - a.left, a.bottom - a.top);
      ctx.restore();
    },
    afterDraw(chart) {
      const { ctx, chartArea: a } = chart;
      ctx.save();
      // title
      ctx.fillStyle = TEXT_COLOR;
      ctx.font = '29px ' + CJK;
      ctx.textAlign = 'left';
      ctx.textBaseline = 'middle';
      ctx.fillText(title, a.left + 1.6, a.top - 16.2);
      // legend
      ctx.strokeStyle = OBS_COLOR;
      ctx.lineWidth = 1.7;
      ctx.beginPath();
      ctx.moveTo(a.left + 289.9, a.top + 16.6);
      ctx.lineTo(a.left + 336.6, a.top + 16.6);
      ctx.stroke();
      ctx.fillStyle = MOD_COLOR;
      ctx.beginPath();
      ctx.arc(a.left + 313.3, a.top + 50, DOT_R, 0, Math.PI * 2);
      ctx.fill();
      ctx.fillStyle = TEXT_COLOR;
      ctx.font = '22.5px ' + LATIN;
      ctx.textBaseline = 'alphabetic';
      ctx.fillText(obsLabel, a.left + 354.9, a.top + 26.4);
      ctx.fillText(modLabel, a.left + 354.9, a.top + 58.0);
      ctx.restore();
    }
  };
}

for (let i = 0; i < 3; i++) {
  const canvas = document.getElementById('c' + i);
  new Chart(canvas, {
    type: 'scatter',
    data: {
      datasets: [
        {
          type: 'line',
          label: 'Observation',
          data: toPoints(observationSeries[i]),
          borderColor: OBS_COLOR,
          borderWidth: 1.7,
          pointRadius: 0,
          fill: false,
          tension: 0,
          spanGaps: false,
          order: 2
        },
        {
          type: 'scatter',
          label: 'Model',
          data: toPoints(modelSeries[i]),
          backgroundColor: MOD_COLOR,
          borderWidth: 0,
          pointRadius: DOT_R,
          pointHoverRadius: DOT_R,
          order: 1
        }
      ]
    },
    options: {
      responsive: false,
      animation: false,
      devicePixelRatio: 1,
      events: [],
      layout: { padding: { left: 0, top: 59.7, right: 67, bottom: 0 } },
      plugins: { legend: { display: false }, tooltip: { enabled: false }, title: { display: false } },
      scales: {
        x: {
          type: 'linear',
          min: xRange[0],
          max: xRange[1],
          afterBuildTicks: s => { s.ticks = xTickHours.map(v => ({ value: v })); },
          afterFit: s => { s.height = 168.9; },
          border: { display: false },
          grid: { color: '#ffffff', lineWidth: 1.4, drawTicks: false },
          ticks: {
            autoSkip: false,
            minRotation: 90,
            maxRotation: 90,
            padding: 11,
            labelOffset: -17,
            color: TEXT_COLOR,
            font: { size: 22, family: LATIN },
            callback: (v, idx) => xTickLabels[idx]
          }
        },
        y: {
          type: 'linear',
          min: yRange[0],
          max: yRange[1],
          afterBuildTicks: s => { s.ticks = yTickValues.map(v => ({ value: v })); },
          afterFit: s => { s.width = 78.4; },
          border: { display: false },
          grid: { color: '#ffffff', lineWidth: 1.4, drawTicks: false },
          ticks: { padding: 8, color: TEXT_COLOR, font: { size: 12, family: LATIN } },
          title: {
            display: true,
            text: 'O3 [ppb]',
            color: TEXT_COLOR,
            font: { size: 24, family: LATIN },
            padding: { top: 15, bottom: 0 }
          }
        }
      }
    },
    plugins: [makeDecor(stationNames[i], 'Observation (mean:' + obsMeans[i] + ')', 'Model (mean:' + modelMeans[i] + ')')]
  });
}
</script>
</body>
</html>
